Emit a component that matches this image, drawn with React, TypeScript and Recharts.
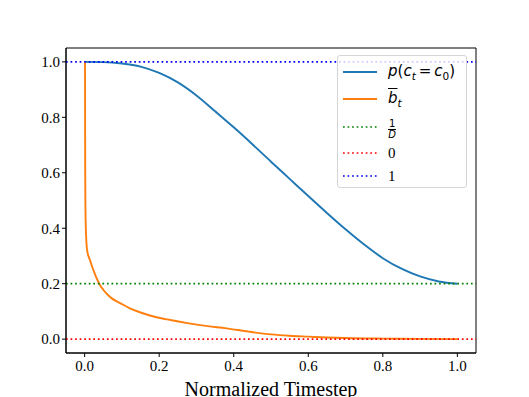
import React from "react";
import {
  LineChart,
  Line,
  XAxis,
  YAxis,
  ReferenceLine,
  ReferenceArea,
} from "recharts";

const blueX = [0, 0.05, 0.1, 0.15, 0.2, 0.25, 0.3, 0.35, 0.4, 0.45, 0.5, 0.55, 0.6, 0.65, 0.7, 0.75, 0.8, 0.85, 0.9, 0.95, 1.0];
const blueY = [1.0, 0.999, 0.994, 0.983, 0.96, 0.926, 0.879, 0.822, 0.764, 0.703, 0.64, 0.578, 0.516, 0.455, 0.396, 0.341, 0.292, 0.254, 0.226, 0.208, 0.2];

const orangeX = [0.001, 0.0015, 0.002, 0.003, 0.004, 0.0055, 0.008, 0.0115, 0.0145, 0.02, 0.027, 0.033, 0.039, 0.05, 0.062, 0.073, 0.085, 0.095, 0.12, 0.15, 0.19, 0.23, 0.28, 0.33, 0.38, 0.44, 0.5, 0.55, 0.6, 0.65, 0.7, 0.8, 0.9, 1.0];
const orangeY = [1.0, 0.62, 0.5, 0.41, 0.37, 0.335, 0.31, 0.295, 0.284, 0.262, 0.237, 0.217, 0.2, 0.178, 0.16, 0.147, 0.137, 0.13, 0.112, 0.096, 0.08, 0.069, 0.057, 0.047, 0.039, 0.027, 0.017, 0.012, 0.009, 0.006, 0.004, 0.002, 0.001, 0.0];

const xTicks = [0, 0.2, 0.4, 0.6, 0.8, 1.0];
const yTicks = [0, 0.2, 0.4, 0.6, 0.8, 1.0];

const blueData = blueX.map((x, i) => ({ x, y: blueY[i] }));
const orangeData = orangeX.map((x, i) => ({ x, y: orangeY[i] }));

const serif = "'Liberation Serif', 'Times New Roman', serif";
const mathFont = "'DejaVu Sans', sans-serif";
const DOT = "1.7 2.85";

const LegendBox = () => {
  const rowTops = [16, 42.7, 70.7, 96.7, 120];
  const rows: { color: string; dotted: boolean; label: React.ReactNode }[] = [
    {
      color: "#1f77b4",
      dotted: false,
      label: (
        <span style={{ fontFamily: mathFont, fontSize: 15 }}>
          <i>p</i>(<i>c</i>
          <sub style={{ fontSize: 10.5 }}><i>t</i></sub>
          <span style={{ margin: "0 3px" }}>=</span>
          <i>c</i>
          <sub style={{ fontSize: 10.5 }}>0</sub>)
        </span>
      ),
    },
    {
      color: "#ff7f0e",
      dotted: false,
      label: (
        <span style={{ fontFamily: mathFont, fontSize: 15 }}>
          <i style={{ textDecoration: "overline" }}>b</i>
          <sub style={{ fontSize: 10.5 }}><i>t</i></sub>
        </span>
      ),
    },
    {
      color: "green",
      dotted: true,
      label: (
        <span
          style={{
            fontFamily: mathFont,
            fontSize: 10,
            display: "inline-flex",
            flexDirection: "column",
            alignItems: "center",
            lineHeight: "10px",
          }}
        >
          <span style={{ borderBottom: "1px solid black", padding: "0 1px" }}>1</span>
          <i>D</i>
        </span>
      ),
    },
    {
      color: "red",
      dotted: true,
      label: <span style={{ fontFamily: serif, fontSize: 15 }}>0</span>,
    },
    {
      color: "blue",
      dotted: true,
      label: <span style={{ fontFamily: serif, fontSize: 15 }}>1</span>,
    },
  ];
  return (
    <div
      style={{
        position: "absolute",
        left: 337,
        top: 55,
        width: 130,
        height: 133,
        background: "rgba(255,255,255,0.8)",
        border: "1px solid #d5d5d5",
        borderRadius: 3,
        boxSizing: "border-box",
      }}
    >
      {rows.map((r, i) => (
        <div
          key={i}
          style={{
            position: "absolute",
            left: 0,
            top: rowTops[i] - 12,
            height: 24,
            display: "flex",
            alignItems: "center",
          }}
        >
          <svg width={50} height={24} style={{ display: "block" }}>
            <line
              x1={5}
              x2={39}
              y1={12}
              y2={12}
              stroke={r.color}
              strokeWidth={r.dotted ? 1.7 : 1.9}
              strokeDasharray={r.dotted ? DOT : undefined}
            />
          </svg>
          <div style={{ color: "black", whiteSpace: "nowrap" }}>{r.label}</div>
        </div>
      ))}
    </div>
  );
};

export default function App() {
  return (
    <div style={{ position: "absolute", left: 0, top: 0, width: 529, height: 397, background: "white" }}>
      <LineChart
        width={529}
        height={397}
        margin={{ top: 48, right: 53, bottom: 0, left: 0 }}
      >
        <XAxis
          dataKey="x"
          type="number"
          domain={[-0.05, 1.05]}
          ticks={xTicks}
          tickFormatter={(v: number) => v.toFixed(1)}
          allowDataOverflow
          height={44}
          tickSize={4}
          tickMargin={3}
          stroke="black"
          tick={{ fill: "black", fontFamily: serif, fontSize: 15 }}
          label={{
            value: "Normalized Timestep",
            position: "insideBottom",
            offset: 1,
            fill: "black",
            fontFamily: serif,
            fontSize: 20,
          }}
        />
        <YAxis
          type="number"
          domain={[-0.05, 1.05]}
          ticks={yTicks}
          tickFormatter={(v: number) => v.toFixed(1)}
          allowDataOverflow
          width={66}
          tickSize={4}
          tickMargin={2}
          stroke="black"
          tick={{ fill: "black", fontFamily: serif, fontSize: 15 }}
        />
        <ReferenceArea
          x1={-0.05}
          x2={1.05}
          y1={-0.05}
          y2={1.05}
          fill="none"
          fillOpacity={0}
          stroke="black"
          strokeWidth={1}
          ifOverflow="visible"
        />
        <Line
          data={blueData}
          dataKey="y"
          type="monotone"
          stroke="#1f77b4"
          strokeWidth={1.9}
          dot={false}
          isAnimationActive={false}
        />
        <Line
          data={orangeData}
          dataKey="y"
          type="monotone"
          stroke="#ff7f0e"
          strokeWidth={1.9}
          dot={false}
          isAnimationActive={false}
        />
        <ReferenceLine y={0.2} stroke="green" strokeWidth={1.7} strokeDasharray={DOT} />
        <ReferenceLine y={0} stroke="red" strokeWidth={1.7} strokeDasharray={DOT} />
        <ReferenceLine y={1} stroke="blue" strokeWidth={1.7} strokeDasharray={DOT} />
      </LineChart>
      <LegendBox />
    </div>
  );
}
